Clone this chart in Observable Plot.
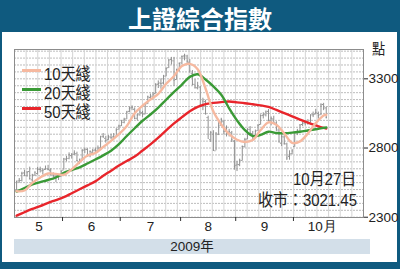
<!DOCTYPE html>
<html><head><meta charset="utf-8">
<script src="https://cdn.jsdelivr.net/npm/d3@7"></script>
<script src="https://cdn.jsdelivr.net/npm/@observablehq/plot@0.6"></script>
<style>
body{margin:0;background:#fff}
#wrap{position:relative;width:400px;height:269px;background:#0f5a7f;overflow:hidden;font-family:"Liberation Sans Narrow","Liberation Sans",Arial,"Noto Sans CJK TC",sans-serif;color:#222}
#title{position:absolute;left:0;top:0;width:400px;height:32px;line-height:32px;text-align:center;color:#fff;font:bold 24px "Noto Sans CJK TC",sans-serif;letter-spacing:0px}
#panel{position:absolute;left:2px;top:32px;width:395px;height:230px;background:#fff}
#chart{position:absolute;left:0;top:32px}
.abs{position:absolute;white-space:nowrap;transform:scaleX(0.88);transform-origin:0 0}
.leg{position:absolute;left:22px;width:19px;height:3px}
#year{position:absolute;left:14px;top:239px;width:356px;height:15px;background:#d3dfe9;text-align:center;font-size:13.5px;line-height:15px}
</style></head>
<body>
<div id="wrap">
  <div id="title">上證綜合指數</div>
  <div id="panel"></div>
  <div id="chart"></div>
  <div id="year">2009年</div>
  <div class="abs" style="left:372px;top:37px;font-size:15px">點</div>
  <div class="leg" style="top:69px;background:#f6b9a0"></div>
  <div class="abs" style="left:44px;top:60px;font-size:17px">10天綫</div>
  <div class="leg" style="top:88px;background:#3a9a36"></div>
  <div class="abs" style="left:44px;top:79px;font-size:17px">20天綫</div>
  <div class="leg" style="top:107px;background:#e8252b"></div>
  <div class="abs" style="left:44px;top:98px;font-size:17px">50天綫</div>
  <div class="abs" style="left:293px;top:165px;font-size:17px">10月27日</div>
  <div class="abs" style="left:258px;top:186px;font-size:17px">收市：3021.45</div>
</div>
<script>
// Trading days, 4 May – 27 Oct 2009 (index 0..118)
const months = ["5", "6", "7", "8", "9", "10月"];
const monthSpan = [18, 22, 23, 21, 22, 22];
const yTicks = [2300, 2800, 3300];

const open = [2495,2562,2565,2620,2600,2630,2570,2605,2615,2645,2635,2645,2650,2640,2605,2595,2600,2595,
2640,2720,2725,2745,2755,2760,2700,2720,2785,2790,2745,2770,2785,2780,2800,2885,2870,2860,2880,2880,2885,2935,
2960,2985,3010,3065,3090,3080,3015,3040,3055,3045,3120,3165,3175,3195,3260,3270,3270,3320,3380,3440,3430,3295,3365,
3415,3465,3465,3420,3340,3260,3235,3240,3100,3135,3020,2860,2900,2780,2900,2965,2990,2920,2905,2910,2850,
2675,2680,2710,2810,2865,2935,2905,2885,2925,2970,3035,3040,3065,3000,3010,2980,2930,2835,2880,2830,2740,2760,
2810,2910,2920,2970,2980,2985,2985,3040,3045,3050,3040,3115,3090];
const high = [2560,2580,2625,2640,2630,2662,2610,2627,2660,2662,2650,2670,2675,2650,2620,2615,2610,2635,
2725,2740,2765,2760,2780,2770,2720,2790,2800,2795,2780,2790,2800,2815,2885,2905,2885,2890,2900,2905,2940,2965,
3000,3015,3065,3095,3105,3090,3045,3080,3065,3120,3175,3190,3200,3265,3285,3300,3325,3380,3440,3455,3455,3370,3415,
3465,3478,3470,3440,3360,3295,3275,3245,3160,3145,3030,2920,2925,2910,2985,3015,3000,2960,2935,2920,2855,
2705,2720,2815,2870,2940,2955,2920,2930,2970,3040,3055,3068,3078,3025,3030,2990,2950,2895,2890,2835,2780,2790,
2915,2935,2970,2985,2995,3005,3040,3060,3080,3060,3120,3123,3095];
const low = [2490,2545,2555,2597,2590,2568,2545,2595,2605,2620,2605,2640,2635,2600,2570,2550,2565,2590,
2640,2700,2715,2720,2745,2700,2680,2715,2760,2735,2730,2760,2765,2770,2795,2870,2835,2855,2860,2870,2880,2930,
2955,2975,3005,3055,3070,3005,2995,3030,3020,3040,3115,3150,3160,3190,3230,3225,3255,3315,3375,3400,3245,3290,3350,
3400,3430,3400,3340,3250,3225,3220,3100,3070,3040,2870,2840,2775,2780,2890,2955,2895,2880,2880,2840,2640,
2630,2665,2705,2800,2860,2895,2860,2870,2920,2965,3010,3025,2990,2960,2970,2920,2840,2810,2820,2710,2712,2750,
2805,2890,2915,2955,2960,2965,2980,3020,3040,3010,3035,3070,3010];
const close = [2560,2567,2617,2601,2626,2580,2604,2626,2645,2646,2639,2650,2645,2610,2597,2596,2590,2633,
2721,2723,2752,2751,2765,2710,2712,2780,2791,2743,2775,2782,2786,2800,2880,2881,2855,2880,2875,2880,2930,2959,
2988,3008,3060,3087,3093,3013,3038,3060,3043,3114,3170,3173,3189,3260,3266,3266,3319,3373,3435,3437,3290,3365,3412,
3462,3471,3428,3356,3260,3239,3250,3112,3139,3046,2870,2911,2785,2908,2959,3007,2920,2909,2920,2860,2668,
2683,2713,2811,2862,2935,2908,2890,2920,2962,3034,3040,3060,3003,3015,2985,2940,2842,2883,2834,2728,2754,2779,
2911,2925,2966,2979,2984,2978,3038,3040,3057,3034,3112,3088,3021.45];

// moving averages at every third trading day
const maDay = [0,3,6,9,12,15,18,21,24,27,30,33,36,39,42,45,48,51,54,57,60,63,66,69,72,75,78,81,84,87,90,93,96,99,102,105,108,111,114,117,118];
const ma10 = [2488,2493,2548,2587,2616,2613,2607,2646,2698,2746,2764,2807,2852,2900,2959,3051,3106,3151,3192,3264,3321,3392,3408,3370,3230,3064,2970,2900,2860,2844,2858,2930,2985,2968,2905,2838,2848,2905,2980,3035,3040];
const ma20 = [2485,2511,2537,2554,2569,2587,2621,2641,2661,2688,2717,2747,2781,2828,2887,2943,2997,3042,3092,3149,3205,3259,3314,3333,3295,3245,3185,3087,3000,2930,2887,2895,2918,2909,2907,2911,2918,2927,2936,2946,2948];
const ma50 = [2311,2336,2360,2381,2404,2424,2445,2473,2502,2530,2559,2599,2636,2674,2706,2738,2782,2826,2875,2928,2978,3023,3066,3097,3117,3126,3132,3136,3130,3124,3116,3108,3097,3075,3052,3029,3006,2984,2964,2945,2941];

const bars = close.map((c, i) => ({i, open: open[i], high: high[i], low: low[i], close: c}));
const ma = [];
maDay.forEach((d, k) => {
  ma.push({i: d, v: ma10[k], s: "10"});
  ma.push({i: d, v: ma20[k], s: "20"});
  ma.push({i: d, v: ma50[k], s: "50"});
});

const bounds = [];
const mids = [];
let acc = -0.5;
monthSpan.forEach((n, k) => {
  mids.push(acc + n / 2);
  acc += n;
  if (k < monthSpan.length - 1) bounds.push(acc);
});

const xDomain = [-0.8, 132.2];
const xGrid = d3.range(1, 30).map(k => xDomain[0] + k * (xDomain[1] - xDomain[0]) / 30);

const chart = Plot.plot({
  width: 400, height: 230,
  marginTop: 17, marginRight: 37, marginBottom: 45, marginLeft: 14,
  x: {domain: xDomain},
  y: {domain: [2298, 3512]},
  style: {fontFamily: '"Liberation Sans Narrow","Liberation Sans",Arial,sans-serif', fontSize: "13px", color: "#222", background: "transparent"},
  marks: [
    Plot.gridY(d3.range(2300, 3501, 50), {stroke: "#bcbcbc", strokeOpacity: 1, strokeDasharray: "2,1"}),
    Plot.gridX(xGrid, {stroke: "#d4d4d4", strokeOpacity: 1}),
    Plot.ruleX(bars, {x: "i", y1: "low", y2: "high", stroke: "#909090", strokeWidth: 1}),
    Plot.ruleY(bars, {y: "open", x1: d => d.i - 0.45, x2: "i", stroke: "#909090", strokeWidth: 1}),
    Plot.ruleY(bars, {y: "close", x1: "i", x2: d => d.i + 0.45, stroke: "#909090", strokeWidth: 1}),
    Plot.line(ma.filter(d => d.s === "50"), {x: "i", y: "v", stroke: "#e8252b", strokeWidth: 2.4, curve: "catmull-rom"}),
    Plot.line(ma.filter(d => d.s === "20"), {x: "i", y: "v", stroke: "#3a9a36", strokeWidth: 2.4, curve: "catmull-rom"}),
    Plot.line(ma.filter(d => d.s === "10"), {x: "i", y: "v", stroke: "#f6b9a0", strokeWidth: 2.4, curve: "catmull-rom"}),
    Plot.frame({stroke: "#8c8c8c"}),
    Plot.axisY(yTicks, {anchor: "right", tickSize: 4, tickPadding: 1, tickFormat: d => String(d), label: null, fontSize: 13.5}),
    Plot.axisX(bounds, {anchor: "bottom", tickSize: 4, tickFormat: () => "", label: null, stroke: "#333"}),
    Plot.text(months, {x: (d, i) => mids[i], frameAnchor: "bottom", dy: 13, fontSize: 13.5, fill: "#222"})
  ]
});
document.getElementById("chart").appendChild(chart);
</script>
</body></html>
